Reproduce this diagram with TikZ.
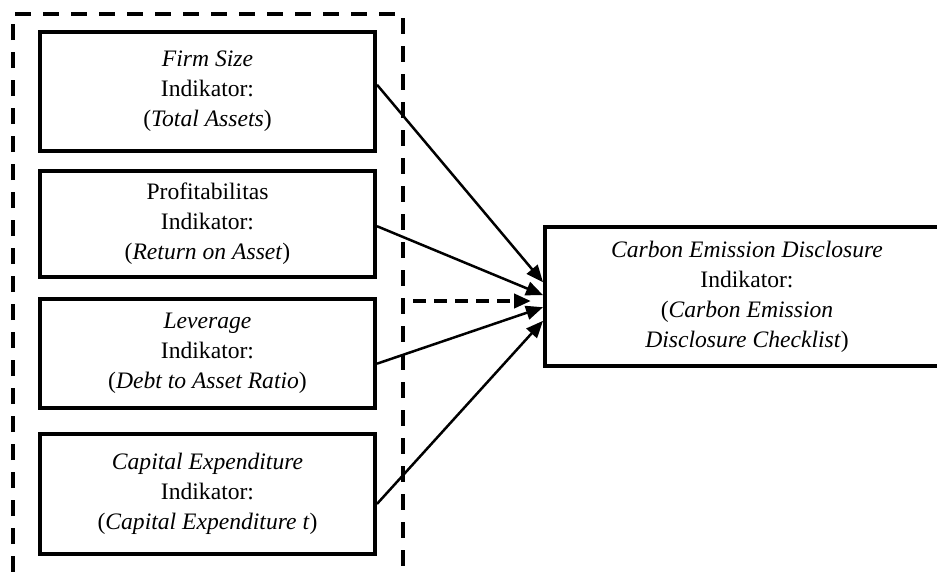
\documentclass[tikz,border=0pt]{standalone}
\usepackage{fontspec}
\setmainfont{Liberation Serif}
\usetikzlibrary{arrows.meta,calc}
\begin{document}
\begin{tikzpicture}[x=1pt,y=-1pt,
  box/.style={draw,line width=4pt,minimum width=335pt,align=center,
    font=\fontsize{23.6}{30}\selectfont,inner sep=0pt},
  conn/.style={line width=2.5pt,-{Triangle[length=17pt,width=14pt]}},
  dconn/.style={line width=4pt,dash pattern=on 13pt off 8pt,-{Triangle[length=17pt,width=14pt]}},
  framebox/.style={line width=4pt,dash pattern=on 16pt off 12pt}]
\useasboundingbox (0,0) rectangle (937,571);

% dashed frame (open at the bottom)
\draw[framebox] (13,600) -- (13,14) -- (403,14) -- (403,600);

\node[box,minimum height=119pt] (b1) at (207.5,91.5)
  {\textit{Firm Size}\\Indikator:\\(\textit{Total Assets})};
\node[box,minimum height=106pt] (b2) at (207.5,224)
  {Profitabilitas\\Indikator:\\(\textit{Return on Asset})};
\node[box,minimum height=109pt] (b3) at (207.5,353.5)
  {\textit{Leverage}\\Indikator:\\(\textit{Debt to Asset Ratio})};
\node[box,minimum height=120pt] (b4) at (207.5,494)
  {\textit{Capital Expenditure}\\Indikator:\\(\textit{Capital Expenditure t})};

\node[box,minimum width=404pt,minimum height=139pt] (cr) at (747,296.5)
  {\textit{Carbon Emission Disclosure}\\Indikator:\\(\textit{Carbon Emission}\\\textit{Disclosure Checklist})};

\coordinate (ds) at (413,301);

\draw[conn] ($(b1.north east)!0.445!(b1.south east)$) -- ($(cr.north west)!0.40!(cr.south west)$);
\draw[conn] ($(b2.north east)!0.52!(b2.south east)$) -- ($(cr.north west)!0.49!(cr.south west)$);
\draw[conn] ($(b3.north east)!0.59!(b3.south east)$) -- ($(cr.north west)!0.575!(cr.south west)$);
\draw[conn] ($(b4.north east)!0.58!(b4.south east)$) -- ($(cr.north west)!0.67!(cr.south west)$);
\draw[dconn,shorten >=12pt] (ds) -- (ds -| cr.west);
\end{tikzpicture}
\end{document}
